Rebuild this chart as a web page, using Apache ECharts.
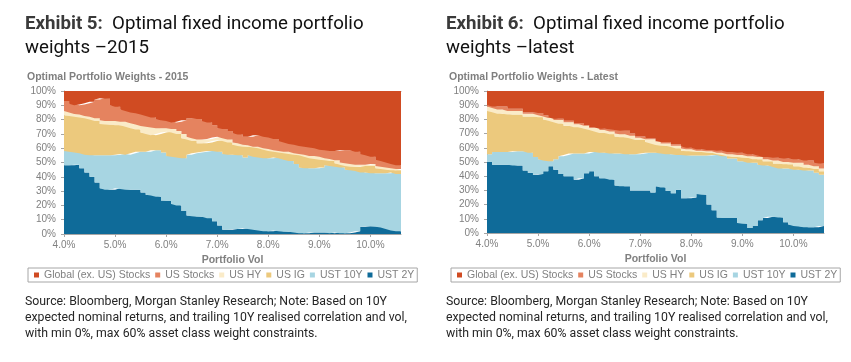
<!DOCTYPE html>
<html>
<head>
<meta charset="utf-8">
<script src="https://cdn.jsdelivr.net/npm/echarts@6/dist/echarts.min.js"></script>
<style>
html,body{margin:0;padding:0;background:#fff;}
#chart{width:851px;height:362px;}
</style>
</head>
<body>
<div id="chart"></div>
<script>
// Portfolio vol grid (categories, %)
const vol = ['4.0','4.1','4.2','4.3','4.4','4.5','4.6','4.7','4.8','4.9',
  '5.0','5.1','5.2','5.3','5.4','5.5','5.6','5.7','5.8','5.9',
  '6.0','6.1','6.2','6.3','6.4','6.5','6.6','6.7','6.8','6.9',
  '7.0','7.1','7.2','7.3','7.4','7.5','7.6','7.7','7.8','7.9',
  '8.0','8.1','8.2','8.3','8.4','8.5','8.6','8.7','8.8','8.9',
  '9.0','9.1','9.2','9.3','9.4','9.5','9.6','9.7','9.8','9.9',
  '10.0','10.1','10.2','10.3','10.4','10.5','10.6'];

const seriesNames = ['Global (ex. US) Stocks','US Stocks','US HY','US IG','UST 10Y','UST 2Y'];
const seriesColors = ['#D04B22','#E5835F','#FAEBC8','#ECC97D','#A7D5E2','#0F6B99'];
const xTickLabels = ['4.0%','5.0%','6.0%','7.0%','8.0%','9.0%','10.0%'];

// ---- Exhibit 5: 2015 weights (%) ----
const ust2y_2015 = [48,48,48.5,46,43,40,36,32,31,31,
  32,31.5,31,31,31,29,27.5,27,26,23.5,
  23,21,20,16,13,12.5,12,12,11,9,
  6,3,3,3.5,3.5,4,3.5,3,2.5,2,
  2,2.5,2,1.5,1.5,1,0.5,0.5,1,1,
  1,1,0.5,1,0.5,0.5,1,2,5,5.5,
  5.5,5,4.5,3.5,2.5,2,2];
const ust10y_2015 = [10,9.5,8.5,10.5,12.5,15,19,23,24,24,
  23.5,24.5,24.5,25.5,26.5,28.5,30,31.5,32.5,33.5,
  31.5,33,33.5,37,42.5,44,45,45.5,47,49,
  51.5,53,52.5,52,51.5,49.5,51.5,51,51,51,
  51,51,51,50.5,49.5,48,46,45.5,45,45,
  45.5,47,47,46,46,44.5,43.5,42,38,37.5,
  37,37.5,38,39,40.5,40,40];
const usig_2015 = [25,25,25,25,25.5,25,24,22,21.5,21.5,
  20.5,20,19.5,17.5,15.5,13.5,12.5,10.5,11.5,14,
  17,17,16.5,14,10.5,8.5,6.5,6,6,7,
  8,9,8.5,7,6.5,7.5,6,6.5,6.5,6,
  5,4,4,4.5,5,6.5,8.5,8,7,6.5,
  5.5,3.5,3.5,2.5,2,2.5,2.5,3,4.5,4.5,
  5,3.5,3,2.5,1.5,2.5,2.5];
const ushy_2015 = [3,2.5,2,2,1.5,2,2,2.5,2.5,2.5,
  3,2.5,3.5,3.5,3.5,4.5,5,5.5,4,3,
  2.5,2.5,2,3,2,2,2.5,2.5,2.5,2.5,
  2.5,2,2,1.5,2,1.5,1,0.5,1,1,
  1.5,1,1,1,1.5,1,1,1.5,1.5,2,
  2,1.5,1.5,2,1.5,2,2,1.5,1,1,
  1.5,1.5,1.5,1.5,1.5,1,1];
const usstocks_2015 = [7,6,6,7,9,10.5,13,15.5,15.5,11,
  10,8.5,7.5,7.5,8,8,7.5,7,6,5.5,
  5,4.5,6.5,9.5,13,14,14.5,13,11.5,8.5,
  6,6.5,6,6.5,6,5.5,6,8,8,8,
  8,8,7,6.5,5.5,6,5.5,5.5,6,5.5,
  5,5.5,5.5,6.5,8.5,9,9.5,9,7.5,6.5,
  5,4.5,4,3.5,3,2.5,2.5];
const global_2015 = [7,9,10,9.5,8.5,7.5,6,5,5.5,10,
  11,13,14,15,15.5,16.5,17.5,18.5,20,20.5,
  21,22,21.5,20.5,19,19,19.5,21,22,24,
  26,26.5,28,29.5,30.5,32,32,31,31,32,
  32.5,33.5,35,36,37,37.5,38.5,39,39.5,40,
  41,41.5,42,42,41.5,41.5,41.5,42.5,44,45,
  46,48,49,50,51,52,52];

// ---- Exhibit 6: latest weights (%) ----
const ust2y_latest = [50,48,48,48,48,47.5,47.5,44,42.5,41,
  41.5,43.5,47,44.5,41.5,40,40,37.5,38.5,42,
  43.5,40,38.5,38.5,37.5,33.5,33,33,30,30,
  30,30,28.5,33,32,29.5,28,30.5,24.5,24.5,
  25,27.5,27,20,16,11,10.5,10.5,10.5,7,
  6.5,3.5,5,9,10.5,11.5,11.5,11,7.5,6,
  5,4.5,4,4,4,5,5];
const ust10y_latest = [5.5,9,9,9,9,10,10,13.5,14,12.5,
  10.5,7.5,3.5,7.5,12.5,15,16,18.5,17.5,14,
  13.5,17,18,18,18.5,22.5,23,22.5,25.5,25.5,
  26,26.5,28,23.5,24,26,27.5,24.5,30.5,30,
  29.5,27,27.5,34.5,39,44,43.5,42,42,43.5,
  44,46,44.5,39,37,36,35,34.5,38,39.5,
  39.5,40,40,40,38.5,36,36];
const usig_latest = [30.5,28,27,27,26.5,26,26,24.5,25.5,28.5,
  29.5,29,28.5,26,23,20.5,19.5,18.5,18.5,17.5,
  15.5,14.5,14,14,13.5,12,11.5,12,11,10,
  9.5,7.5,6.5,5.5,5.5,6,5,4.5,3,3,
  3,2.5,2.5,2,1.5,0.5,1,1.5,1,3,
  2.5,3.5,2.5,4,3,3,2.5,3.5,3,3,
  2.5,2.5,2,2,2.5,2.5,2.5];
const ushy_latest = [3,3,3,3,2.5,2.5,2.5,2,2,2,
  1.5,2,2,1.5,2.5,2.5,2.5,2,2,2,
  1.5,2.5,2,2,2,2,2,2,2,1.5,
  1.5,2,3,2.5,1.5,1.5,1,2,1.5,1.5,
  1.5,1,1,1,1,1,1.5,1.5,2,1.5,
  2,1,2,1.5,1.5,1.5,2,2,1.5,1.5,
  2.5,2.5,2,2,2,2,2];
const usstocks_latest = [1,1,2,2,1.5,1.5,1.5,1,1,1,
  1.5,1,0.5,1,1,1,1,1,1,0.5,
  0.5,0.5,1,1,1.5,2.5,2.5,2.5,1.5,1,
  1,0.5,0.5,0.5,1,1,1,1,1.5,1,
  1,1,1,1,1,1.5,1.5,1.5,1.5,1.5,
  1.5,1.5,1.5,1,1.5,1.5,2,2,2.5,2.5,
  2.5,2.5,3,3,2.5,3.5,3.5];
const global_latest = [10,11,11,11,12.5,12.5,12.5,15,15,15,
  15.5,17,18.5,19.5,19.5,21,21,22.5,22.5,24,
  25.5,25.5,26.5,26.5,27,27.5,28,28,30,32,
  32,33.5,33.5,35,36,36,37.5,37.5,39,40,
  40,41,41,41.5,41.5,42,42,43,43,43.5,
  43.5,44.5,44.5,45.5,46.5,46.5,47,47,47.5,47.5,
  48,48,49,49,50.5,51,51];

const sets = [
  [global_2015, usstocks_2015, ushy_2015, usig_2015, ust10y_2015, ust2y_2015],
  [global_latest, usstocks_latest, ushy_latest, usig_latest, ust10y_latest, ust2y_latest]
];

const labelFont = 'Liberation Sans, Arial, sans-serif';
const axisGrey = '#a6a6a6';
const textGrey = '#808080';

const series = [];
sets.forEach((set, g) => {
  // stack from bottom (UST 2Y) to top (Global)
  for (let k = seriesNames.length - 1; k >= 0; k--) {
    series.push({
      name: seriesNames[k],
      type: 'line',
      xAxisIndex: g,
      yAxisIndex: g,
      stack: 'w' + g,
      step: 'end',
      symbol: 'none',
      color: seriesColors[k],
      lineStyle: {width: 0},
      itemStyle: {color: seriesColors[k]},
      areaStyle: {color: seriesColors[k], opacity: 1},
      emphasis: {disabled: true},
      data: set[k]
    });
  }
});

const isMajor = (idx) => idx % 10 === 0;

function xAxisBottom(g){
  return {
    type: 'category', gridIndex: g, data: vol, boundaryGap: false,
    axisLine: {show: true, lineStyle: {color: axisGrey}},
    axisTick: {show: true, length: 3, interval: isMajor, lineStyle: {color: axisGrey}},
    splitLine: {show: false},
    axisLabel: {
      color: textGrey, fontSize: 10, fontFamily: labelFont, margin: 6,
      interval: isMajor,
      formatter: (v, idx) => xTickLabels[idx / 10] || ''
    },
    name: 'Portfolio Vol', nameLocation: 'middle', nameGap: 21,
    nameTextStyle: {color: textGrey, fontSize: 10.5, fontWeight: 'bold', fontFamily: labelFont}
  };
}
function xAxisTop(g){
  return {
    type: 'value', gridIndex: g, position: 'top', min: 0, max: 1,
    axisLine: {show: true, lineStyle: {color: axisGrey}},
    axisTick: {show: false}, axisLabel: {show: false}, splitLine: {show: false}
  };
}
function yAxis(g){
  return {
    type: 'value', gridIndex: g, min: 0, max: 100, interval: 10,
    axisLine: {show: true, lineStyle: {color: axisGrey}},
    axisTick: {show: true, length: 3, lineStyle: {color: axisGrey}},
    splitLine: {show: false},
    axisLabel: {color: textGrey, fontSize: 10, fontFamily: labelFont, margin: 8, formatter: '{value}%'}
  };
}
function legend(left){
  return {
    left: left, top: 268, orient: 'horizontal', width: 400,
    data: seriesNames, icon: 'rect', itemWidth: 5, itemHeight: 5, itemGap: 5,
    borderColor: axisGrey, borderWidth: 1, padding: [1, 3, 1, 6],
    selectedMode: false,
    textStyle: {color: textGrey, fontSize: 10.5, fontFamily: labelFont, lineHeight: 12}
  };
}
const titleStyle = {
  fontFamily: 'Roboto', fontSize: 18.7, lineHeight: 24, color: '#111', fontWeight: 'normal',
  rich: {b: {fontFamily: 'Roboto', fontSize: 18.7, lineHeight: 24, fontWeight: 'bold', color: '#3a3a3a'}}
};
const subStyle = {fontFamily: labelFont, fontSize: 10.5, fontWeight: 'bold', color: '#7f7f7f'};
const srcStyle = {fontFamily: 'Roboto', fontSize: 12.3, lineHeight: 16, color: '#262626', fontWeight: 'normal'};
const srcText = 'Source: Bloomberg, Morgan Stanley Research; Note: Based on 10Y\nexpected nominal returns, and trailing 10Y realised correlation and vol,\nwith min 0%, max 60% asset class weight constraints.';

const option = {
  animation: false,
  backgroundColor: '#fff',
  title: [
    {left: 25, top: 12, padding: 0, text: '{b|Exhibit 5:}  Optimal fixed income portfolio\nweights \u20132015', textStyle: titleStyle},
    {left: 446, top: 12, padding: 0, text: '{b|Exhibit 6:}  Optimal fixed income portfolio\nweights \u2013latest', textStyle: titleStyle},
    {left: 27, top: 72, padding: 0, text: 'Optimal Portfolio Weights - 2015', textStyle: subStyle},
    {left: 449, top: 72, padding: 0, text: 'Optimal Portfolio Weights - Latest', textStyle: subStyle},
    {left: 25, top: 294, padding: 0, text: srcText, textStyle: srcStyle},
    {left: 446, top: 294, padding: 0, text: srcText, textStyle: srcStyle}
  ],
  legend: [legend(28), legend(451)],
  grid: [
    {left: 64, top: 91, width: 337, height: 143},
    {left: 487, top: 91, width: 337, height: 142}
  ],
  xAxis: [xAxisBottom(0), xAxisBottom(1), xAxisTop(0), xAxisTop(1)],
  yAxis: [yAxis(0), yAxis(1)],
  series: series
};

const chart = echarts.init(document.getElementById('chart'), null, {renderer: 'canvas'});
chart.setOption(option);
</script>
</body>
</html>
